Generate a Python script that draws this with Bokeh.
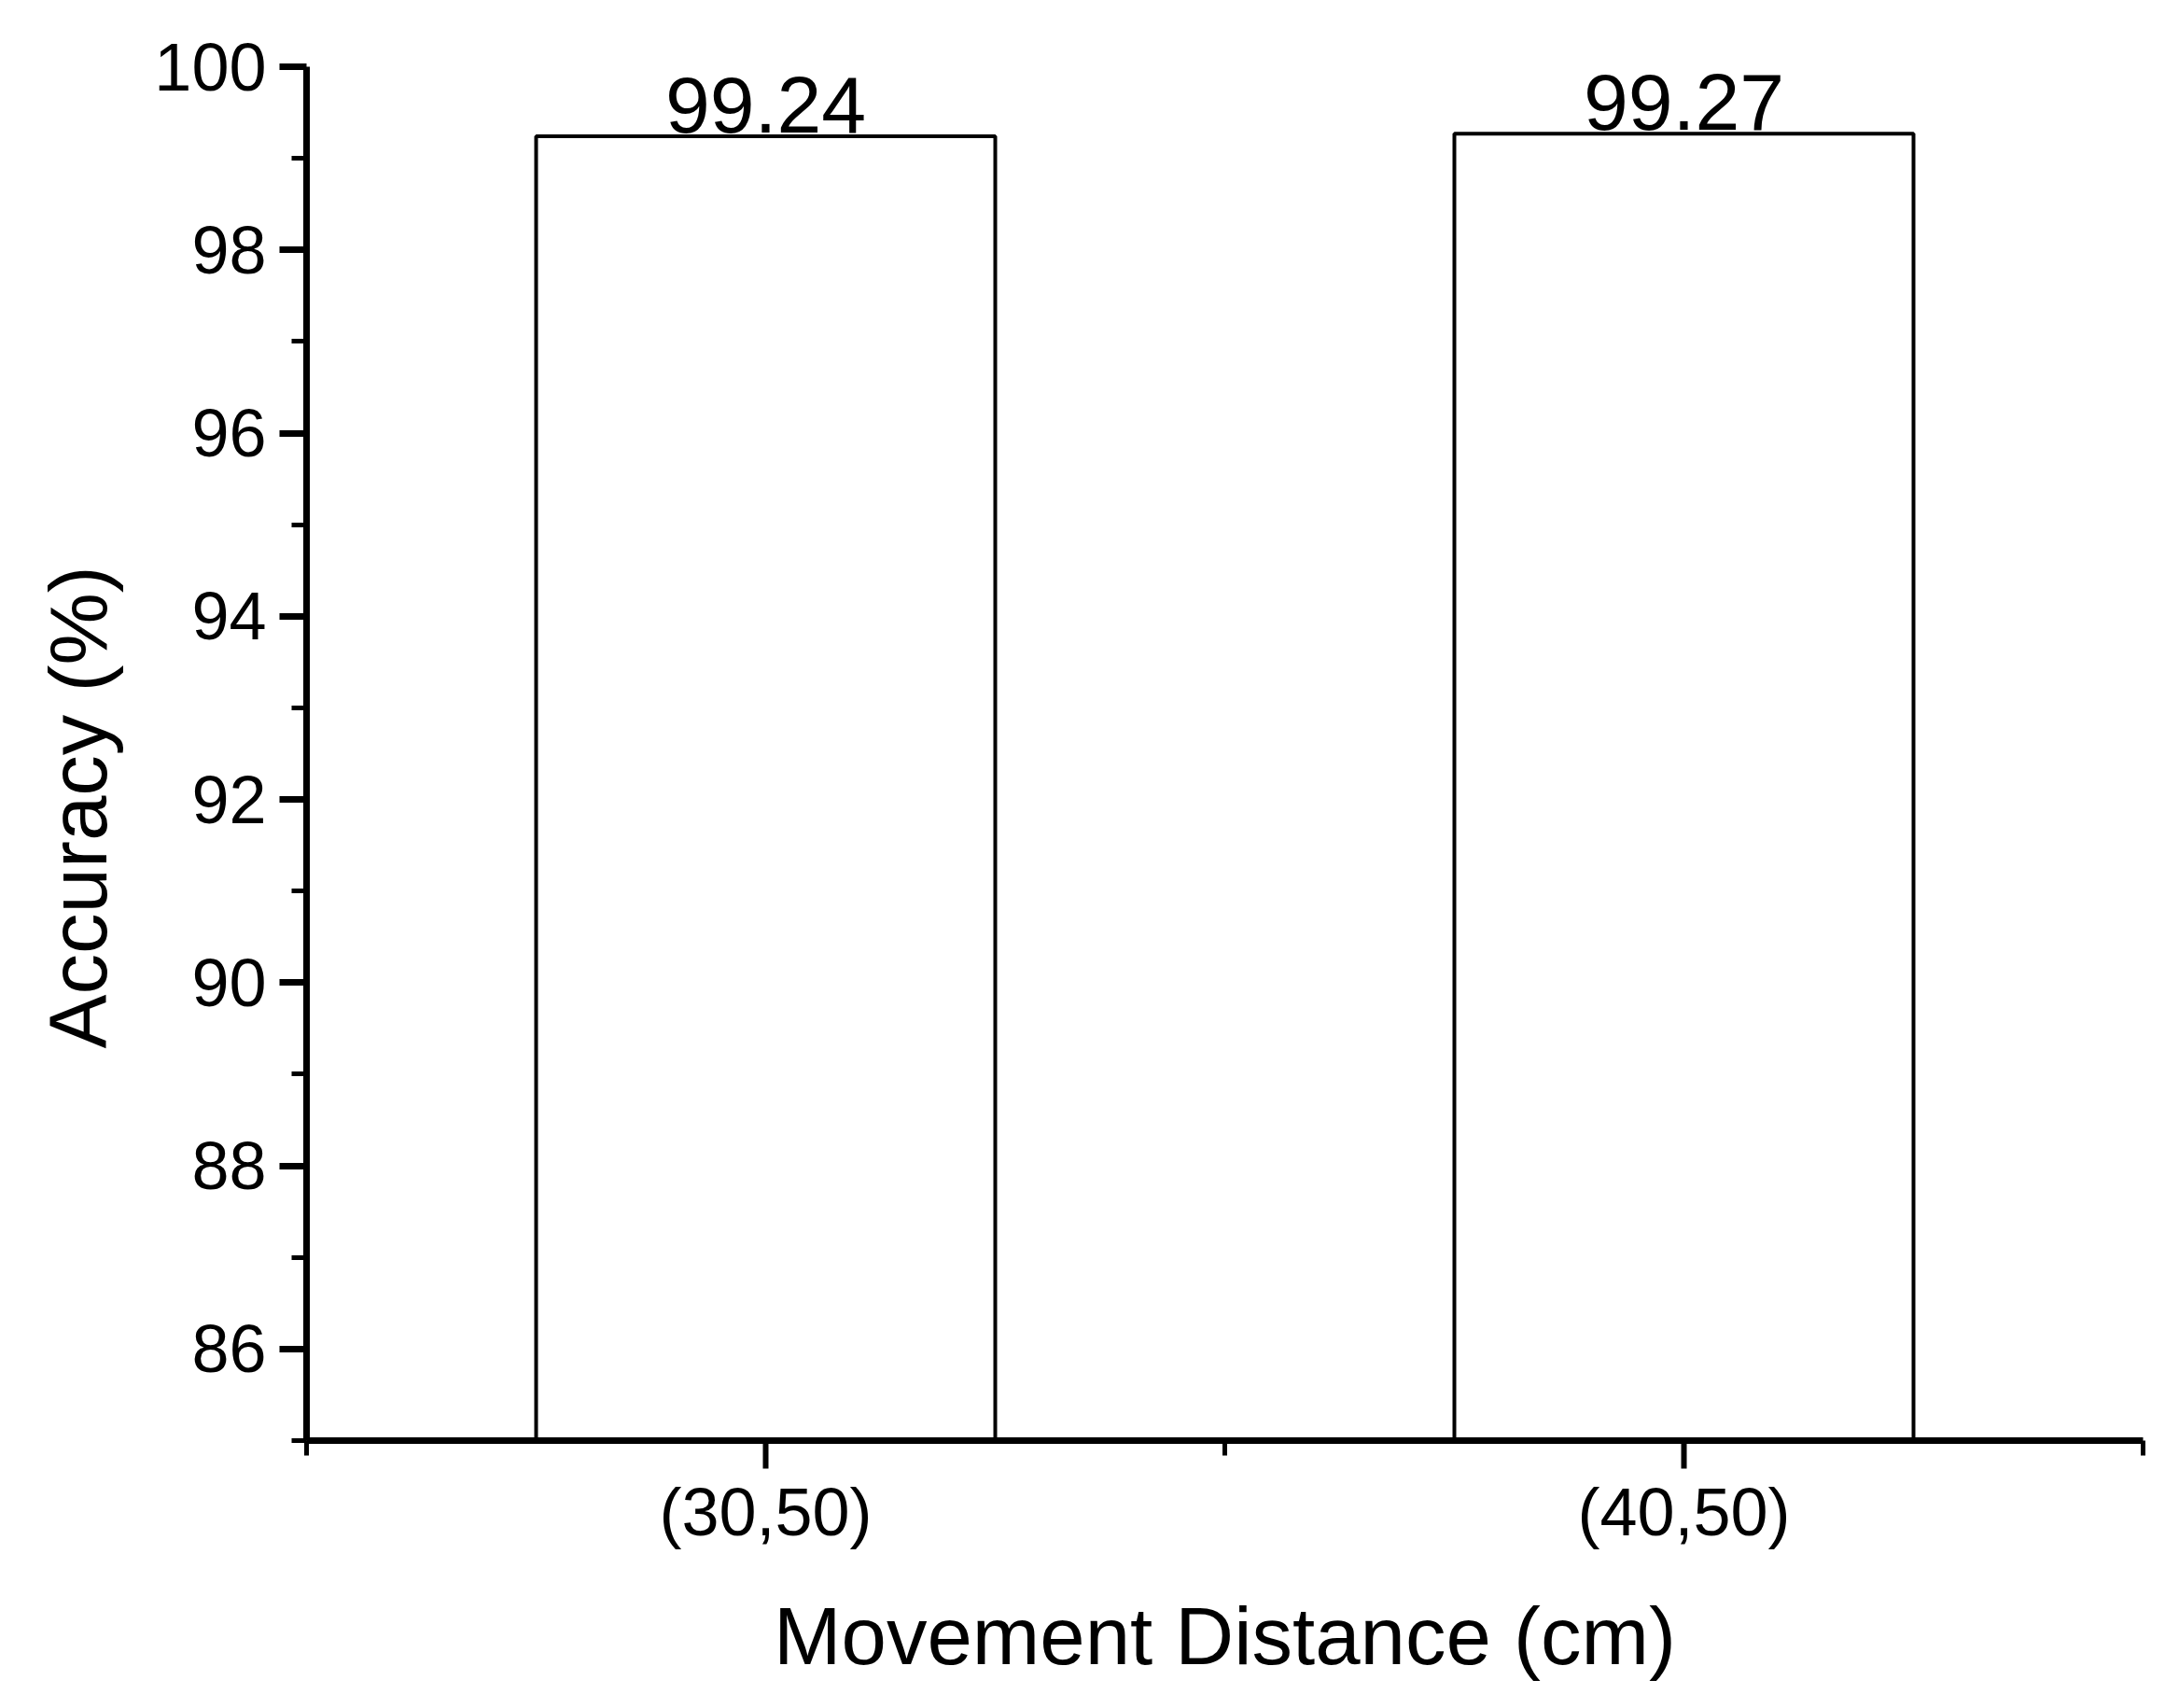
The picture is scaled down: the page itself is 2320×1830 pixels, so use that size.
from bokeh.plotting import figure
from bokeh.models import FixedTicker, Range1d, ColumnDataSource, Title
from bokeh.core.properties import value
from bokeh.embed import file_html
from bokeh.resources import INLINE

categories = ["(30,50)", "(40,50)"]
accuracy = [99.24, 99.27]
value_labels = ["99.24", "99.27"]
y_ticks = [86, 88, 90, 92, 94, 96, 98, 100]
y_minor = [85, 87, 89, 91, 93, 95, 97, 99]

positions = list(range(1, len(categories) + 1))
src = ColumnDataSource(dict(x=positions, top=accuracy, label=value_labels))

FONT = "Liberation Sans"

p = figure(width=2304, height=1814, output_backend="svg", toolbar_location=None,
           x_range=Range1d(0.5, len(categories) + 0.5), y_range=Range1d(85, 100),
           min_border_left=328, min_border_right=8, min_border_top=71, min_border_bottom=271)
p.outline_line_color = None
p.xgrid.visible = False
p.ygrid.visible = False
p.background_fill_color = "white"
p.border_fill_color = "white"

p.vbar(x="x", top="top", bottom=85, width=0.5, source=src,
       fill_color="white", line_color="black", line_width=4)
p.text(x="x", y="top", text="label", source=src, text_align="center",
       text_baseline="alphabetic", y_offset=-34,
       text_font=value(FONT), text_font_size="86px", text_color="black")

# x axis
xa = p.xaxis[0]
xa.ticker = FixedTicker(ticks=positions, minor_ticks=[0.5 + i for i in range(len(categories) + 1)])
xa.major_label_overrides = {pos: cat for pos, cat in zip(positions, categories)}
xa.axis_label = "Movement Distance (cm)"
xa.axis_line_width = 7
xa.axis_line_color = "black"
xa.major_tick_line_color = "black"
xa.minor_tick_line_color = "black"
xa.major_tick_line_width = 6
xa.minor_tick_line_width = 5
xa.major_tick_out = 30
xa.major_tick_in = 0
xa.minor_tick_out = 16
xa.minor_tick_in = 0
xa.major_label_text_font = FONT
xa.major_label_text_font_size = "72px"
xa.major_label_text_color = "black"
xa.major_label_standoff = 6
xa.axis_label_text_font = FONT
xa.axis_label_text_font_size = "87px"
xa.axis_label_text_font_style = "normal"
xa.axis_label_text_color = "black"
xa.axis_label_standoff = 41

# y axis
ya = p.yaxis[0]
ya.ticker = FixedTicker(ticks=y_ticks, minor_ticks=y_minor)
ya.axis_line_width = 7
ya.axis_line_color = "black"
ya.major_tick_line_color = "black"
ya.minor_tick_line_color = "black"
ya.major_tick_line_width = 7
ya.minor_tick_line_width = 5
ya.major_tick_out = 29
ya.major_tick_in = 0
ya.minor_tick_out = 16
ya.minor_tick_in = 0
ya.major_label_text_font = FONT
ya.major_label_text_font_size = "72px"
ya.major_label_text_color = "black"
ya.major_label_standoff = 14

ytitle = Title(text="Accuracy (%)", align="left", offset=420, standoff=62,
               text_font=FONT, text_font_size="87px", text_font_style="normal",
               text_color="black")
p.add_layout(ytitle, "left")

open("out.html", "w").write(file_html(p, INLINE))
